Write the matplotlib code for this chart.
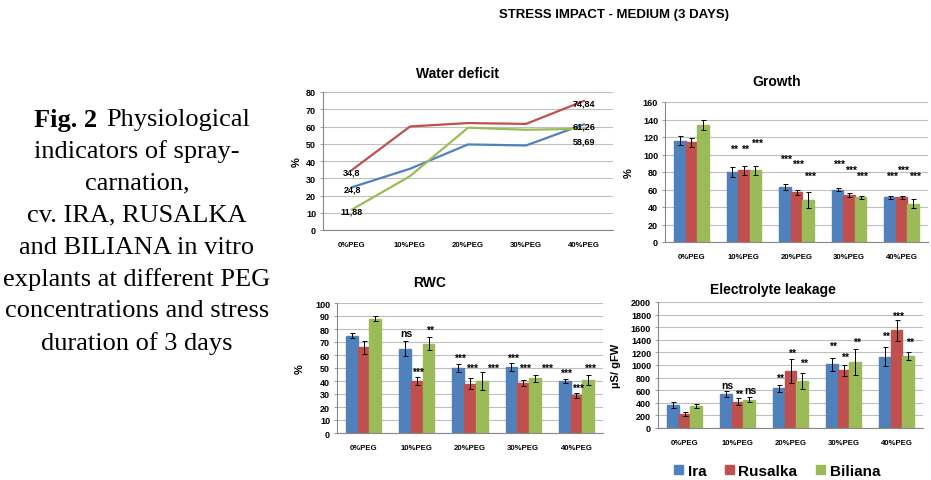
import numpy as np
import matplotlib.pyplot as plt

plt.rcParams['font.family'] = ['Liberation Sans', 'DejaVu Sans']

# data
categories = ['0%PEG', '10%PEG', '20%PEG', '30%PEG', '40%PEG']
cultivars = ['Ira', 'Rusalka', 'Biliana']
colors = ['#4F81BD', '#C0504D', '#9BBB59']

# water deficit, %
wd_ira = [24.8, 35.5, 49.6, 49.0, 61.26]
wd_rusalka = [34.8, 60.0, 62.0, 61.5, 74.84]
wd_biliana = [11.88, 31.2, 59.3, 58.1, 58.69]

# growth, %
gr_mean = [[116, 80, 63, 60, 51],
           [114, 82, 57, 54, 51],
           [134, 82, 48, 51, 44]]
gr_err = [[5, 6, 3, 2, 1.5],
          [5, 5, 3, 2, 1.5],
          [6, 5, 9, 2, 5]]
gr_sig = [['', '**', '***', '***', '***'],
          ['', '**', '***', '***', '***'],
          ['', '***', '***', '***', '***']]
gr_sig_y = [[0, 106, 95, 89, 76],
            [0, 106, 89, 83, 83],
            [0, 113, 76, 76, 76]]

# relative water content, %
rwc_mean = [[75, 65, 50, 51, 40],
            [66, 40, 38, 38.5, 29],
            [88, 68.5, 40, 42, 41]]
rwc_err = [[2, 5.5, 3, 3, 1.5],
           [5, 3, 4, 2, 2],
           [2, 5, 7, 2.5, 4]]
rwc_sig = [['', 'ns', '***', '***', '***'],
           ['', '***', '***', '***', '***'],
           ['', '**', '***', '***', '***']]
rwc_sig_y = [[0, 77, 58, 58, 46],
             [0, 47, 50, 50, 35],
             [0, 79, 50, 50, 50]]

# electrolyte leakage, uS/gFW
el_mean = [[365, 540, 630, 1010, 1130],
           [225, 415, 900, 915, 1550],
           [345, 450, 750, 1050, 1140]]
el_err = [[50, 50, 60, 100, 150],
          [30, 55, 190, 90, 170],
          [35, 45, 130, 210, 60]]
el_sig = [['', 'ns', '**', '**', '**'],
          ['', '**', '**', '**', '***'],
          ['', 'ns', '**', '**', '**']]
el_sig_y = [[0, 690, 800, 1300, 1460],
            [0, 550, 1200, 1130, 1780],
            [0, 600, 1040, 1370, 1370]]

W, H = 931, 481
fig = plt.figure(figsize=(W / 100, H / 100), dpi=100)


def ax_at(l, t, r, b):
    return fig.add_axes([l / W, 1 - b / H, (r - l) / W, (b - t) / H])


def style(ax, ymax, step, ylabel, ylabx):
    ax.set_ylim(0, ymax)
    ax.set_yticks(np.arange(0, ymax + 1, step))
    ax.set_xlim(-0.5, 4.5)
    ax.set_xticks(range(5))
    ax.set_xticklabels(categories, fontsize=5.6, fontweight='bold')
    for lab in ax.get_yticklabels():
        lab.set_fontsize(6.5)
        lab.set_fontweight('bold')
    ax.tick_params(axis='x', length=0, pad=8)
    ax.tick_params(axis='y', length=2, width=0.6, color='#888888', pad=3)
    ax.grid(axis='y', color='#bfbfbf', lw=0.8)
    ax.set_axisbelow(True)
    for s in ['top', 'right']:
        ax.spines[s].set_visible(False)
    for s in ['left', 'bottom']:
        ax.spines[s].set_color('#888888')
        ax.spines[s].set_linewidth(0.8)
    ax.set_ylabel(ylabel, fontsize=8, fontweight='bold')
    ax.yaxis.set_label_coords(ylabx, 0.5)


def title(x, y, s):
    fig.text(x / W, 1 - y / H, s, ha='center', va='center', fontsize=10,
             fontweight='bold')


def bars(ax, mean, err, sig, sig_y):
    x = np.arange(5)
    w = 0.22
    for i in range(3):
        xi = x + (i - 1) * w
        ax.bar(xi, mean[i], w, color=colors[i], edgecolor=colors[i])
        ax.errorbar(xi, mean[i], yerr=err[i], fmt='none', ecolor='black',
                    elinewidth=0.7, capsize=1.8, capthick=0.7)
        for j in range(5):
            if sig[i][j]:
                dx = 0.03
                # last label is pushed right when it sits level with the middle one
                if i == 2 and sig[1][j] and sig_y[1][j] == sig_y[2][j]:
                    dx = 0.22
                ax.text(xi[j] + dx, sig_y[i][j], sig[i][j], ha='center', va='center',
                        fontsize=7.5, fontweight='bold')


# water deficit
ax1 = ax_at(323, 93, 613, 231)
style(ax1, 80, 10, '%', -0.075)
title(457, 74, 'Water deficit')
x = np.arange(5)
for ys, c in zip([wd_ira, wd_rusalka, wd_biliana], colors):
    ax1.plot(x, ys, color=c, lw=1.6)
for xv, yv, s in [(0, wd_rusalka[0], '34,8'), (0, wd_ira[0], '24,8'),
                  (0, wd_biliana[0], '11,88'), (4, wd_rusalka[4], '74,84'),
                  (4, wd_ira[4], '61,26'), (4, wd_biliana[4] - 6, '58,69')]:
    ax1.text(xv, yv - 1, s, ha='center', va='center', fontsize=6.5, fontweight='bold')

# growth
ax2 = ax_at(665, 103, 928, 243)
style(ax2, 160, 20, '%', -0.12)
title(777, 82, 'Growth')
bars(ax2, gr_mean, gr_err, gr_sig, gr_sig_y)

# RWC
ax3 = ax_at(337, 304, 603, 434)
style(ax3, 100, 10, '%', -0.12)
title(430, 283, 'RWC')
bars(ax3, rwc_mean, rwc_err, rwc_sig, rwc_sig_y)

# electrolyte leakage
ax4 = ax_at(658, 303, 923, 429)
style(ax4, 2000, 200, 'µS/ gFW', -0.14)
title(773, 290, 'Electrolyte leakage')
bars(ax4, el_mean, el_err, el_sig, el_sig_y)

handles = [plt.Rectangle((0, 0), 1, 1, color=c) for c in colors]
fig.legend(handles, cultivars, loc='center', bbox_to_anchor=(777 / W, 1 - 472 / H),
           ncol=3, frameon=False, handlelength=0.6, handleheight=0.6,
           handletextpad=0.3, columnspacing=1.2,
           prop={'size': 11, 'weight': 'bold'})

fig.text(614 / W, 1 - 15 / H, 'STRESS IMPACT - MEDIUM (3 DAYS)', ha='center', va='center',
         fontsize=9.5, fontweight='bold')

# caption on the left
caption = ['indicators of spray-', 'carnation,', 'cv. IRA, RUSALKA',
           'and BILIANA in vitro', 'explants at different PEG',
           'concentrations and stress', 'duration of 3 days']
fs = 19
fig.text(97 / W, 1 - 120 / H, 'Fig. 2', ha='right', va='center', fontsize=fs,
         fontweight='bold', family='Liberation Serif')
fig.text(106 / W, 1 - 120 / H, 'Physiological', ha='left', va='center', fontsize=fs,
         family='Liberation Serif')
for k, line in enumerate(caption):
    fig.text(137 / W, 1 - (120 + 31.9 * (k + 1)) / H, line, ha='center', va='center',
             fontsize=fs, family='Liberation Serif')

fig.savefig('out.png', dpi=100)
